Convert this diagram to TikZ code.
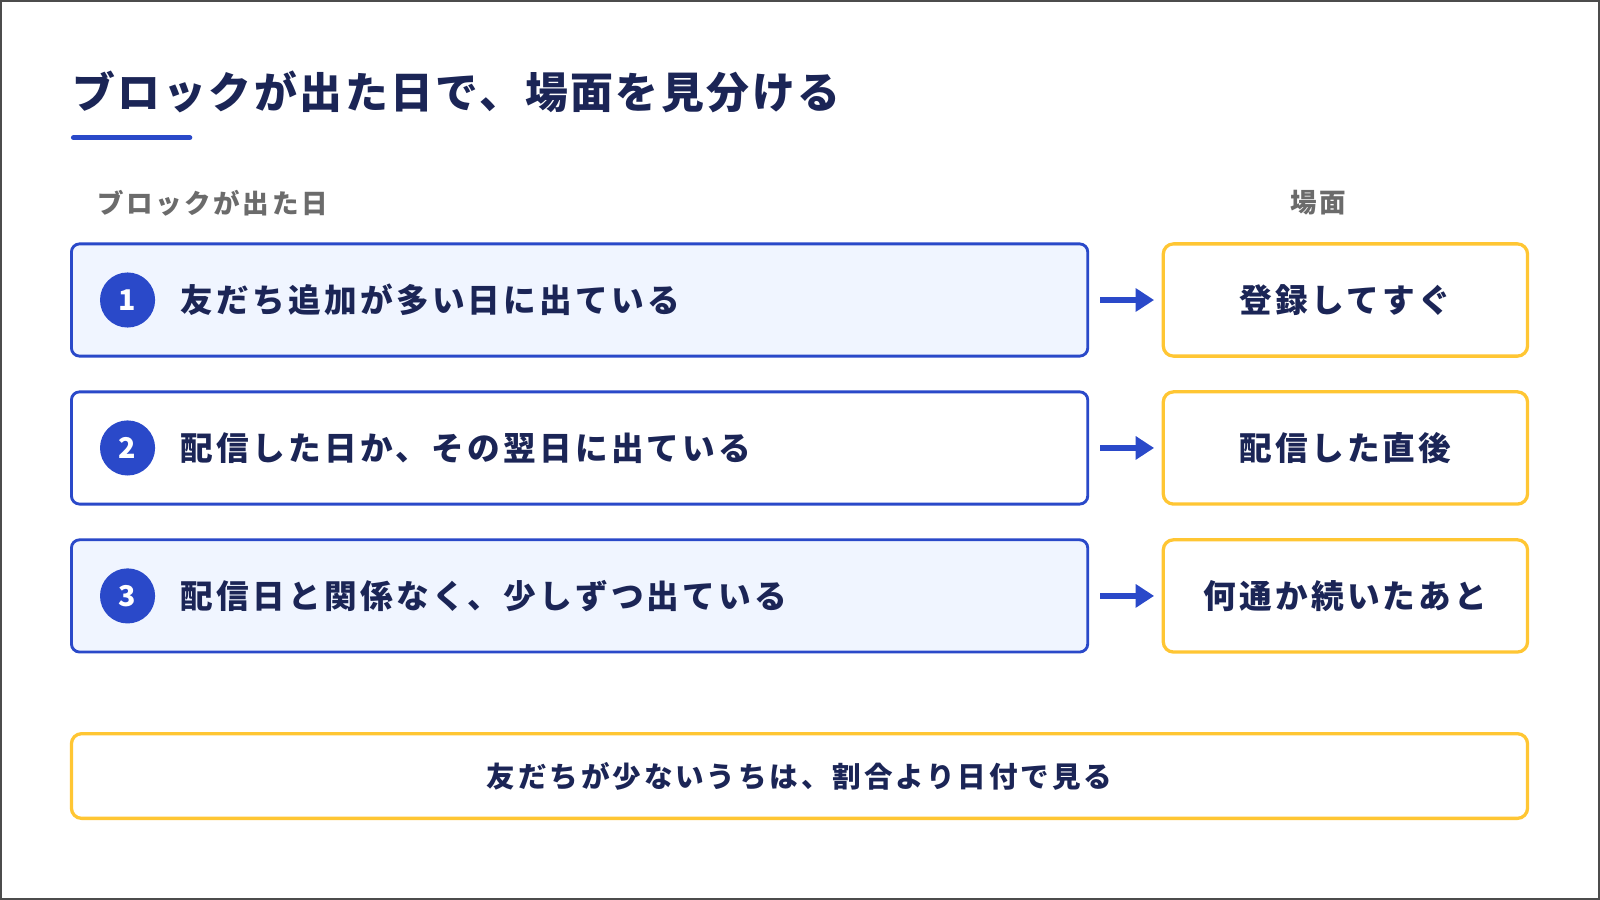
\documentclass[tikz,border=0pt]{standalone}
\usepackage{fontspec}
\setmainfont{Noto Sans CJK JP}
\newfontfamily\widefam{Noto Sans CJK JP}[LetterSpace=10]
\newfontfamily\midfam{Noto Sans CJK JP}[LetterSpace=6]
\usetikzlibrary{arrows.meta}
\definecolor{navy}{HTML}{1B2556}
\definecolor{blu}{HTML}{2A49C9}
\definecolor{lb}{HTML}{F0F5FF}
\definecolor{yel}{HTML}{FFC633}
\definecolor{gry}{HTML}{6B6B6B}
\begin{document}
\begin{tikzpicture}[x=0.5pt,y=-0.5pt,
  row/.style={draw=blu,line width=1.4pt,rounded corners=4pt},
  scene/.style={draw=yel,line width=1.6pt,rounded corners=5pt,fill=white},
  rtxt/.style={anchor=west,text=navy,font=\widefam\fontsize{16}{16}\selectfont\bfseries},
  stxt/.style={text=navy,font=\widefam\fontsize{16}{16}\selectfont\bfseries},
  num/.style={circle,fill=blu,minimum size=27pt,inner sep=0pt,text=white,font=\fontsize{14}{14}\selectfont\bfseries},
  arr/.style={-{Triangle[length=9pt,width=11pt]},draw=blu,line width=3pt}]
\draw[draw=gray!60!black,line width=1pt,fill=white] (1,1) rectangle (1567,881);
\node[anchor=west,text=navy,font=\midfam\fontsize{21}{21}\selectfont\bfseries] (title) at (64,90) {ブロックが出た日で、場面を見分ける};
\draw[blu,line width=2.5pt,line cap=round] (72,135) -- (186,135);
\node[anchor=west,text=gry,font=\widefam\fontsize{13}{13}\selectfont\bfseries] (hl) at (88,199) {ブロックが出た日};
\node[text=gry,font=\widefam\fontsize{13}{13}\selectfont\bfseries] (hr) at (1292,199) {場面};
\foreach \i/\y/\f/\t/\s in {1/294/lb/友だち追加が多い日に出ている/登録してすぐ,
  2/439/white/配信した日か、その翌日に出ている/配信した直後,
  3/584/lb/配信日と関係なく、少しずつ出ている/何通か続いたあと}{
  \draw[row,fill=\f] (70,\y-55) rectangle (1066,\y+55);
  \node[num] (n\i) at (125,\y) {\i};
  \node[rtxt] (t\i) at (170,\y) {\t};
  \node[scene,minimum width=178.5pt,minimum height=55pt] (s\i) at (1318.5,\y) {};
  \node[stxt] at (s\i) {\s};
  \coordinate (a\i) at (1078,\y);
  \coordinate (e\i) at (1131,\y);
  \draw[arr] (a\i) -- (e\i);
}
\node[scene,minimum width=713.5pt,minimum height=41.5pt] (b) at (783.5,760.5) {};
\node[text=navy,font=\widefam\fontsize{14}{14}\selectfont\bfseries] at (b) {友だちが少ないうちは、割合より日付で見る};
\end{tikzpicture}
\end{document}
